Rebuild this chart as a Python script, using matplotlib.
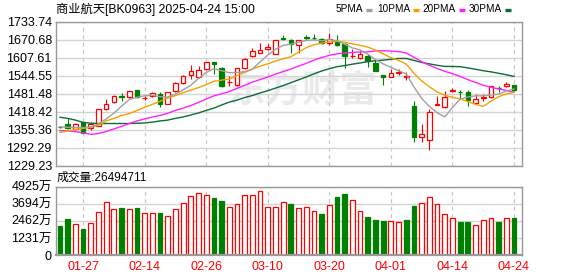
import numpy as np
import matplotlib
matplotlib.use("Agg")
import matplotlib.pyplot as plt
from matplotlib.patches import Rectangle

plt.rcParams['font.family'] = ['Liberation Sans', 'Noto Sans CJK SC', 'DejaVu Sans']

# ---- data ----
dates = ['01-22', '01-23', '01-24', '01-27', '02-05', '02-06', '02-07', '02-10', '02-11', '02-12',
         '02-13', '02-14', '02-17', '02-18', '02-19', '02-20', '02-21', '02-24', '02-25', '02-26',
         '02-27', '02-28', '03-03', '03-04', '03-05', '03-06', '03-07', '03-10', '03-11', '03-12',
         '03-13', '03-14', '03-17', '03-18', '03-19', '03-20', '03-21', '03-24', '03-25', '03-26',
         '03-27', '03-28', '03-31', '04-01', '04-02', '04-03', '04-07', '04-08', '04-09', '04-10',
         '04-11', '04-14', '04-15', '04-16', '04-17', '04-18', '04-21', '04-22', '04-23', '04-24']

opens = [1366, 1374, 1357, 1381, 1362, 1370, 1429, 1451, 1472, 1469,
         1494, 1466, 1475, 1479, 1446, 1491, 1520, 1547, 1539, 1569,
         1592, 1573, 1522, 1512, 1570, 1615, 1625, 1638, 1622, 1677,
         1670, 1651, 1680, 1678, 1673, 1658, 1664, 1654, 1612, 1605,
         1613, 1590, 1546, 1541, 1555, 1540, 1438, 1331, 1321, 1443,
         1434, 1492, 1488, 1486, 1448, 1465, 1470, 1502, 1508, 1511]
highs = [1368, 1398, 1378, 1383, 1382, 1428, 1463, 1478, 1483, 1492,
         1496, 1473, 1486, 1487, 1487, 1522, 1547, 1581, 1578, 1593,
         1593, 1576, 1542, 1571, 1605, 1640, 1660, 1654, 1669, 1687,
         1672, 1671, 1688, 1689, 1675, 1693, 1687, 1658, 1637, 1631,
         1619, 1601, 1547, 1568, 1568, 1556, 1456, 1374, 1428, 1474,
         1490, 1501, 1495, 1494, 1482, 1482, 1508, 1510, 1522, 1512]
lows = [1361, 1357, 1353, 1343, 1354, 1369, 1424, 1448, 1457, 1466,
        1467, 1458, 1470, 1436, 1444, 1487, 1514, 1534, 1535, 1566,
        1550, 1506, 1507, 1510, 1568, 1611, 1623, 1636, 1620, 1670,
        1625, 1625, 1669, 1671, 1654, 1651, 1650, 1570, 1605, 1604,
        1576, 1561, 1513, 1540, 1546, 1530, 1313, 1311, 1285, 1443,
        1433, 1486, 1464, 1438, 1447, 1457, 1467, 1487, 1504, 1490]
closes = [1364, 1360, 1374, 1345, 1374, 1427, 1444, 1474, 1470, 1490,
          1469, 1468, 1483, 1446, 1486, 1519, 1543, 1561, 1564, 1592,
          1585, 1508, 1524, 1570, 1603, 1632, 1636, 1645, 1668, 1672,
          1654, 1669, 1678, 1676, 1658, 1672, 1653, 1615, 1614, 1619,
          1597, 1562, 1539, 1554, 1557, 1542, 1331, 1340, 1416, 1445,
          1469, 1494, 1486, 1458, 1463, 1471, 1507, 1500, 1515, 1496]

ma5 = [1365, 1364, 1363, 1363, 1363, 1376, 1393, 1413, 1438, 1461,
       1469, 1474, 1476, 1471, 1470, 1480, 1495, 1511, 1535, 1556,
       1569, 1562, 1555, 1556, 1558, 1567, 1593, 1617, 1637, 1651,
       1655, 1662, 1668, 1670, 1667, 1671, 1667, 1655, 1642, 1635,
       1620, 1601, 1586, 1574, 1562, 1551, 1505, 1465, 1437, 1415,
       1400, 1433, 1462, 1470, 1474, 1474, 1477, 1480, 1491, 1498]
ma10 = [1346, 1351, 1356, 1360, 1365, 1370, 1386, 1395, 1405, 1412,
        1423, 1434, 1444, 1455, 1466, 1475, 1485, 1494, 1503, 1513,
        1525, 1529, 1533, 1545, 1557, 1568, 1578, 1586, 1596, 1604,
        1611, 1627, 1643, 1653, 1659, 1663, 1665, 1662, 1656, 1651,
        1645, 1634, 1621, 1608, 1598, 1585, 1553, 1526, 1506, 1488,
        1476, 1469, 1463, 1454, 1444, 1437, 1455, 1471, 1481, 1486]
ma20 = [1352, 1351, 1349, 1344, 1339, 1342, 1349, 1358, 1367, 1377,
        1386, 1393, 1400, 1405, 1413, 1423, 1431, 1440, 1451, 1463,
        1474, 1481, 1489, 1500, 1511, 1522, 1531, 1540, 1550, 1559,
        1568, 1578, 1588, 1599, 1608, 1616, 1621, 1624, 1626, 1628,
        1628, 1631, 1632, 1631, 1629, 1624, 1609, 1594, 1581, 1570,
        1560, 1552, 1542, 1531, 1521, 1511, 1504, 1498, 1493, 1487]
ma30 = [1399, 1395, 1389, 1381, 1378, 1377, 1377, 1377, 1377, 1377,
        1378, 1379, 1382, 1386, 1389, 1395, 1400, 1407, 1414, 1423,
        1431, 1442, 1452, 1459, 1468, 1475, 1484, 1492, 1501, 1510,
        1520, 1530, 1540, 1551, 1561, 1569, 1576, 1580, 1585, 1589,
        1594, 1597, 1599, 1602, 1605, 1605, 1598, 1591, 1586, 1581,
        1577, 1577, 1576, 1572, 1567, 1562, 1558, 1553, 1548, 1542]

# volume in 万
volumes = [2090, 2594, 2210, 1874, 2306, 3075, 3795, 3315, 3387, 3315,
           3387, 3003, 3003, 3027, 2786, 3315, 3723, 4228, 4444, 4300,
           4108, 3891, 3435, 3651, 4300, 4300, 4588, 3435, 3435, 3795,
           3675, 3387, 3435, 3147, 2954, 3579, 4180, 4396, 3939, 3147,
           2738, 2522, 2450, 2426, 2354, 2522, 3531, 3723, 4156, 3651,
           2930, 2642, 2378, 2378, 2138, 2498, 2642, 2378, 2642, 2649]
vol_up = [0, 0, 1, 0, 1, 1, 1, 1, 0, 1,
          0, 1, 1, 0, 1, 1, 1, 1, 1, 1,
          0, 0, 1, 1, 1, 1, 1, 1, 1, 1,
          0, 1, 1, 1, 0, 1, 0, 0, 1, 1,
          0, 0, 0, 1, 1, 0, 0, 1, 1, 1,
          1, 1, 0, 0, 1, 1, 1, 0, 1, 0]

price_ticks = [1229.23, 1292.29, 1355.36, 1418.42, 1481.48, 1544.55, 1607.61, 1670.68, 1733.74]
vol_ticks = [0, 1231, 2462, 3694, 4925]
label_dates = ['01-27', '02-14', '02-26', '03-10', '03-20', '04-01', '04-14', '04-24']

# ---- layout ----
W, H = 578, 276
RED = '#ff0000'
GREEN = '#008000'
FRAME = '#999999'
GRID = '#d4d4d4'


def box(l, t, r, b):
    return [l / W, 1 - b / H, (r - l) / W, (b - t) / H]


fig = plt.figure(figsize=(W / 100, H / 100), dpi=100)
fig.patch.set_facecolor('white')

bg = fig.add_axes([0, 0, 1, 1], zorder=0)
bg.set_xlim(0, W)
bg.set_ylim(H, 0)
bg.axis('off')

ax = fig.add_axes(box(56, 21.7, 522, 165.7), zorder=1)
axv = fig.add_axes(box(56, 186.7, 522, 255), zorder=1)
ax.patch.set_alpha(0)

x = np.arange(len(dates))
tick_idx = [dates.index(d) for d in label_dates]
xlim = (-0.52, 60.04)
w = 0.6

# watermark
bg.text(303, 91, '东方财富', fontsize=27, color='#eaeaed', ha='center', va='center',
        family=['Noto Sans CJK SC'], weight='bold')

# candles
for i in x:
    o, h, l, c = opens[i], highs[i], lows[i], closes[i]
    if c >= o:
        ax.vlines(i, c, h, color=RED, lw=0.8, zorder=2)
        ax.vlines(i, l, o, color=RED, lw=0.8, zorder=2)
        ax.add_patch(Rectangle((i - w / 2, o), w, max(c - o, 0.5), fc='white', ec=RED, lw=0.9, zorder=2))
    else:
        ax.vlines(i, l, h, color=GREEN, lw=0.8, zorder=2)
        ax.add_patch(Rectangle((i - w / 2, c), w, o - c, fc=GREEN, ec=GREEN, lw=0.9, zorder=2))

ax.plot(x, ma30, color='#0a6e35', lw=1.0, zorder=3)
ax.plot(x, ma20, color='#ff22ff', lw=1.0, zorder=3)
ax.plot(x, ma10, color='#f5a200', lw=1.0, zorder=3)
ax.plot(x, ma5, color='#a0a0a0', lw=1.0, zorder=3)

ax.set_xlim(*xlim)
ax.set_ylim(price_ticks[0], price_ticks[-1])
ax.set_yticks(price_ticks)
ax.set_yticklabels(['%.2f' % v for v in price_ticks])
ax.set_xticks(tick_idx)
ax.set_xticklabels([])

# volume
for i in x:
    if vol_up[i]:
        axv.bar(i, volumes[i], width=0.62, fc='white', ec=RED, lw=0.9, zorder=2)
    else:
        axv.bar(i, volumes[i], width=0.62, fc=GREEN, ec=GREEN, lw=0.9, zorder=2)

axv.set_xlim(*xlim)
axv.set_ylim(0, vol_ticks[-1])
axv.set_yticks(vol_ticks)
axv.set_yticklabels(['0'] + ['%d万' % v for v in vol_ticks[1:]])
axv.set_xticks(tick_idx)
axv.set_xticklabels(label_dates, color=RED)

for a in (ax, axv):
    a.set_axisbelow(True)
    a.grid(axis='y', color=GRID, lw=1.0, ls='-')
    a.grid(axis='x', color='#c8c8c8', lw=0.9, ls=(0, (3, 3)))
    a.tick_params(length=0, labelsize=9, pad=3)
    for s in a.spines.values():
        s.set_color(FRAME)
        s.set_linewidth(1.0)
axv.spines['bottom'].set_linewidth(1.6)
axv.tick_params(axis='x', pad=4)

# header texts
bg.text(56, 9.5, '商业航天[BK0963] 2025-04-24 15:00', fontsize=8.8, ha='left', va='center')
legend = [('5PMA', 363, '#a0a0a0'), ('10PMA', 410, '#f5a200'),
          ('20PMA', 456, '#ff22ff'), ('30PMA', 502, '#0a6e35')]
for name, rx, col in legend:
    bg.text(rx, 9.5, name, fontsize=7.2, ha='right', va='center')
    bg.plot([rx + 2.5, rx + 9], [9.5, 9.5], color=col, lw=2.4, solid_capstyle='butt')

bg.text(57, 177.5, '成交量:%d' % 26494711, fontsize=8.5, ha='left', va='center')

fig.savefig('out.png', dpi=100, facecolor='white')
